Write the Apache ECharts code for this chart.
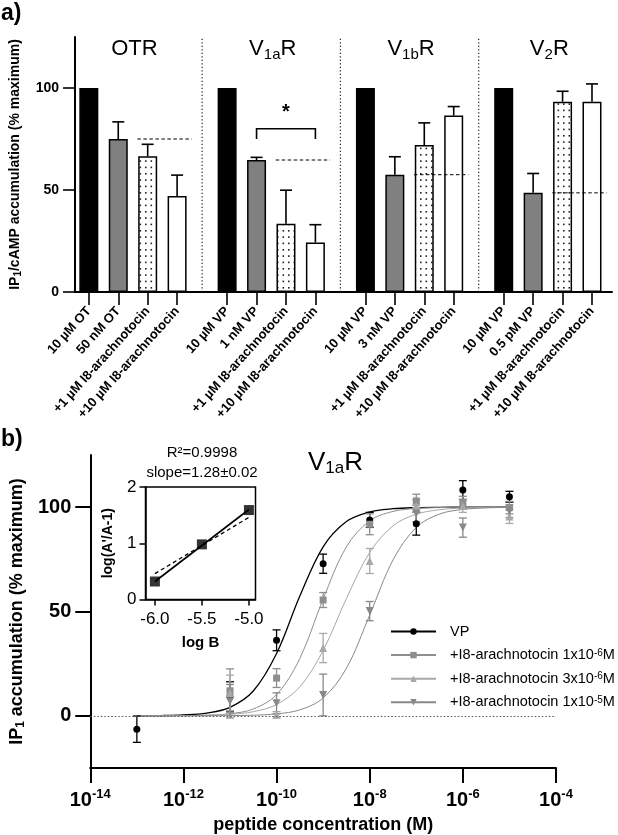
<!DOCTYPE html>
<html><head><meta charset="utf-8">
<script src="https://cdn.jsdelivr.net/npm/echarts@6/dist/echarts.min.js"></script>
<style>html,body{margin:0;padding:0;background:#fff}#c{width:618px;height:835px}</style>
</head><body><div id="c"></div>
<script>
// ================= DATA =================
// Panel a
const receptorTitles = ['OTR', 'V{sub|1a}R', 'V{sub|1b}R', 'V{sub|2}R'];
const barLabels = [
  ['10 µM OT', '50 nM OT', '+1 µM I8-arachnotocin', '+10 µM I8-arachnotocin'],
  ['10 µM VP', '1 nM VP', '+1 µM I8-arachnotocin', '+10 µM I8-arachnotocin'],
  ['10 µM VP', '3 nM VP', '+1 µM I8-arachnotocin', '+10 µM I8-arachnotocin'],
  ['10 µM VP', '0.5 pM VP', '+1 µM I8-arachnotocin', '+10 µM I8-arachnotocin']
];
const barValues = [
  [100, 75, 66.5, 47],
  [100, 64.7, 33.5, 24.3],
  [100, 57.5, 72, 86.5],
  [100, 48.6, 93.3, 93.3]
];
const barErrors = [
  [0, 8.4, 5.9, 10.3],
  [0, 1.3, 16.4, 8.7],
  [0, 8.8, 10.9, 4.4],
  [0, 9.5, 5.1, 8.7]
];
const yTicksA = [0, 50, 100];
const sigGroup = 1, sigFromBar = 1, sigToBar = 3, sigLevel = 80, sigDrop = 5, sigText = '*';

// Panel b (x values are log10 of molar concentration)
const seriesNames = ['VP', '+I8-arachnotocin 1x10-6M', '+I8-arachnotocin 3x10-6M', '+I8-arachnotocin 1x10-5M'];
const legendLabels = ['VP', '+I8-arachnotocin 1x10{s|-6}M', '+I8-arachnotocin 3x10{s|-6}M', '+I8-arachnotocin 1x10{s|-5}M'];
const vpLogC = [-13, -11, -10, -9, -8, -7, -6, -5];
const vpMean = [-6.4, 9.3, 36.2, 72.9, 93.9, 92.1, 108.2, 105];
const vpSem = [6.3, 7, 5, 4.6, 3.6, 5.5, 4.5, 2.6];
const antLogC = [-11, -10, -9, -8, -7, -6, -5];
const a1Mean = [12, 18.1, 55.5, 91.8, 103, 102.2, 99.8];
const a1Sem = [10.5, 4.5, 3.6, 5, 3.2, 3, 3];
const a3Mean = [11, 0.5, 32.5, 74.2, 100.6, 100.5, 95.5];
const a3Sem = [8.5, 1.5, 7, 6, 3, 3, 3.3];
const a10Mean = [7, 6, 10, 50.2, 97, 90.2, 98];
const a10Sem = [8, 5, 10, 4.6, 4, 4.6, 3];
// fitted curves read at half-decade steps
const curveLogC = [-13, -12.5, -12, -11.5, -11, -10.5, -10, -9.5, -9, -8.5, -8, -7.5, -7, -6.5, -6, -5.5, -5];
const vpCurve = [0.04, 0.13, 0.42, 1.33, 4.09, 11.9, 29.9, 57.4, 81.0, 93.1, 97.7, 99.26, 99.77, 99.93, 99.98, 99.99, 100];
const a1Curve = [0.01, 0.03, 0.09, 0.30, 1.00, 3.28, 10.19, 27.5, 56.0, 81.0, 93.46, 97.95, 99.38, 99.81, 99.94, 99.98, 99.99];
const a3Curve = [0.01, 0.03, 0.09, 0.26, 0.72, 1.99, 5.42, 13.9, 31.3, 56.2, 78.3, 91.06, 96.6, 98.78, 99.56, 99.84, 99.94];
const a10Curve = [0, 0, 0.01, 0.03, 0.09, 0.29, 0.92, 2.87, 8.53, 22.8, 48.3, 74.7, 90.3, 96.7, 98.9, 99.66, 99.89];
const xTicksB = [-14, -12, -10, -8, -6, -4];
const yTicksB = [0, 50, 100];

// Inset (Schild plot)
const schildLogB = [-6, -5.5, -5];
const schildY = [0.32, 0.98, 1.59];
const fitLogB = [-6, -5];
const fitY = [0.32, 1.60];
const unityY = [0.46, 1.46];
const insetXTicks = [-6, -5.5, -5];
const insetYTicks = [0, 1, 2];
const insetR2 = 'R²=0.9998';
const insetSlope = 'slope=1.28±0.02';

// ================= STYLE / LAYOUT =================
const FONT = "'Liberation Sans', Arial, Helvetica, sans-serif";
const GROUP_STEP = 4.7;
const pos = (g, i) => g * GROUP_STEP + i;
const barPositions = [];
const barPosLabels = [];
barValues.forEach((grp, g) => grp.forEach((v, i) => { barPositions.push(pos(g, i)); barPosLabels.push(barLabels[g][i]); }));
function labelFor(v) {
  let best = 0, d = 1e9;
  barPositions.forEach((p, k) => { if (Math.abs(p - v) < d) { d = Math.abs(p - v); best = k; } });
  return barPosLabels[best];
}

// dotted pattern
const pc = document.createElement('canvas');
pc.width = 11; pc.height = 19;
const pctx = pc.getContext('2d');
pctx.fillStyle = '#fff'; pctx.fillRect(0, 0, 11, 19);
pctx.fillStyle = '#222';
[[2, 2], [7.5, 2], [2, 8.3], [7.5, 8.3], [2, 14.6], [7.5, 14.6]].forEach(p => pctx.fillRect(p[0], p[1], 1.6, 1.6));

const barStyles = [
  { color: '#000', borderColor: '#000', borderWidth: 1.5 },
  { color: '#808080', borderColor: '#000', borderWidth: 1.5 },
  { color: { image: pc, repeat: 'repeat' }, borderColor: '#000', borderWidth: 1.5 },
  { color: '#fff', borderColor: '#000', borderWidth: 1.5 }
];

const barData = [];
const errDataA = [];
const refLineData = [];
barValues.forEach((grp, g) => {
  grp.forEach((v, i) => {
    barData.push({ value: [pos(g, i), v], itemStyle: barStyles[i] });
    if (barErrors[g][i] > 0) errDataA.push([pos(g, i), v, barErrors[g][i]]);
  });
  refLineData.push([pos(g, 1.65), pos(g, 3.5), grp[1]]);
});
const dividerData = [0, 1, 2].map(g => [pos(g, 3.85)]);
const titleData = receptorTitles.map((t, g) => [pos(g, 1.55), 119, t]);

const colorsB = ['#000000', '#8e8e8e', '#a8a8a8', '#888888'];
const symbolsB = ['circle', 'rect', 'triangle', 'path://M0,0 L10,0 L5,9 Z'];
const symSizeB = [7, 7, 8, 8];
const meansB = [vpMean, a1Mean, a3Mean, a10Mean];
const semsB = [vpSem, a1Sem, a3Sem, a10Sem];
const logCB = [vpLogC, antLogC, antLogC, antLogC];
const curvesB = [vpCurve, a1Curve, a3Curve, a10Curve];

const boldLbl = { color: '#000', fontFamily: FONT, fontWeight: 'bold' };

function errRender(color, lw, capHalf, upOnly) {
  return function (params, api) {
    const x = api.value(0), v = api.value(1), e = api.value(2);
    const pTop = api.coord([x, v + e]);
    const pBot = api.coord([x, upOnly ? v : v - e]);
    const st = { stroke: color, lineWidth: lw, fill: null };
    const ch = [
      { type: 'line', shape: { x1: pTop[0], y1: pTop[1], x2: pBot[0], y2: pBot[1] }, style: st },
      { type: 'line', shape: { x1: pTop[0] - capHalf, y1: pTop[1], x2: pTop[0] + capHalf, y2: pTop[1] }, style: st }
    ];
    if (!upOnly) ch.push({ type: 'line', shape: { x1: pBot[0] - capHalf, y1: pBot[1], x2: pBot[0] + capHalf, y2: pBot[1] }, style: st });
    return { type: 'group', children: ch };
  };
}

const series = [];
// ---------- panel a ----------
series.push({
  type: 'bar', xAxisIndex: 0, yAxisIndex: 0, barWidth: 19, data: barData, silent: true, z: 2
});
series.push({
  type: 'custom', xAxisIndex: 0, yAxisIndex: 0, data: errDataA, silent: true, z: 3,
  renderItem: errRender('#000', 1.6, 6, true)
});
series.push({
  type: 'custom', xAxisIndex: 0, yAxisIndex: 0, data: refLineData, silent: true, z: 4,
  renderItem: (params, api) => {
    const a = api.coord([api.value(0), api.value(2)]);
    const b = api.coord([api.value(1), api.value(2)]);
    return { type: 'line', shape: { x1: a[0], y1: a[1], x2: b[0], y2: b[1] }, style: { stroke: '#000', lineWidth: 1, lineDash: [3.5, 2.5] } };
  }
});
series.push({
  type: 'custom', xAxisIndex: 0, yAxisIndex: 0, data: dividerData, silent: true, z: 1,
  renderItem: (params, api) => {
    const a = api.coord([api.value(0), 0]);
    const b = api.coord([api.value(0), 125]);
    return { type: 'line', shape: { x1: a[0], y1: a[1], x2: b[0], y2: b[1] }, style: { stroke: '#222', lineWidth: 1.2, lineDash: [1.3, 2.2] } };
  }
});
series.push({
  type: 'custom', xAxisIndex: 0, yAxisIndex: 0, data: titleData, silent: true, z: 5,
  renderItem: (params, api) => {
    const p = api.coord([api.value(0), api.value(1)]);
    return {
      type: 'text', x: p[0], y: p[1],
      style: {
        text: titleData[params.dataIndex][2], align: 'center', verticalAlign: 'middle',
        fontFamily: FONT, fontSize: 22, fill: '#000',
        rich: { sub: { fontSize: 15, fontFamily: FONT, padding: [11, 0, 0, 0], verticalAlign: 'bottom' } }
      }
    };
  }
});
series.push({
  type: 'custom', xAxisIndex: 0, yAxisIndex: 0, data: [[pos(sigGroup, sigFromBar), pos(sigGroup, sigToBar), sigLevel, sigDrop]], silent: true, z: 5,
  renderItem: (params, api) => {
    const x1 = api.value(0), x2 = api.value(1), y = api.value(2), d = api.value(3);
    const a = api.coord([x1, y - d]), b = api.coord([x1, y]), c = api.coord([x2, y]), e = api.coord([x2, y - d]);
    const m = api.coord([(x1 + x2) / 2, y]);
    return {
      type: 'group', children: [
        { type: 'polyline', shape: { points: [a, b, c, e] }, style: { stroke: '#000', lineWidth: 1.6, fill: null } },
        { type: 'text', x: m[0], y: m[1] - 6, style: { text: sigText, align: 'center', verticalAlign: 'bottom', fontFamily: FONT, fontWeight: 'bold', fontSize: 20, fill: '#000' } }
      ]
    };
  }
});

// ---------- panel b ----------
for (let k = 0; k < 4; k++) {
  const curve = {
    name: seriesNames[k], type: 'line', xAxisIndex: 1, yAxisIndex: 1,
    data: curveLogC.map((x, i) => [x, curvesB[k][i]]),
    smooth: 0.35, showSymbol: false, symbol: symbolsB[k], symbolSize: symSizeB[k],
    lineStyle: { color: colorsB[k], width: k === 0 ? 1.3 : 1 },
    itemStyle: { color: colorsB[k] }, silent: true, z: 2
  };
  if (k === 0) {
    curve.markLine = {
      silent: true, symbol: 'none', label: { show: false },
      lineStyle: { type: [1.5, 2], color: '#555', width: 1 },
      data: [{ yAxis: 0 }]
    };
  }
  series.push(curve);
  series.push({
    type: 'custom', xAxisIndex: 1, yAxisIndex: 1, silent: true, z: 3,
    data: logCB[k].map((x, i) => [x, meansB[k][i], semsB[k][i]]),
    renderItem: errRender(colorsB[k], 1.3, 4, false)
  });
  series.push({
    type: 'scatter', xAxisIndex: 1, yAxisIndex: 1, silent: true, z: 4,
    symbol: symbolsB[k], symbolSize: symSizeB[k], itemStyle: { color: colorsB[k], opacity: 1 },
    data: logCB[k].map((x, i) => [x, meansB[k][i]])
  });
}

// ---------- inset ----------
series.push({
  type: 'line', xAxisIndex: 2, yAxisIndex: 2, silent: true, showSymbol: false, z: 2,
  data: fitLogB.map((x, i) => [x, unityY[i]]),
  lineStyle: { color: '#000', width: 1.3, type: [4, 3] }
});
series.push({
  type: 'line', xAxisIndex: 2, yAxisIndex: 2, silent: true, showSymbol: false, z: 3,
  data: fitLogB.map((x, i) => [x, fitY[i]]),
  lineStyle: { color: '#000', width: 1.6 }
});
series.push({
  type: 'scatter', xAxisIndex: 2, yAxisIndex: 2, silent: true, z: 4,
  symbol: 'rect', symbolSize: 10, itemStyle: { color: '#000' },
  data: schildLogB.map((x, i) => [x, schildY[i]])
});

const option = {
  animation: false,
  backgroundColor: '#fff',
  textStyle: { fontFamily: FONT },
  title: {
    text: 'V{sub|1a}R', left: 303, top: 443,
    textStyle: { fontFamily: FONT, fontSize: 26, fontWeight: 'normal', color: '#000',
      rich: { sub: { fontSize: 17, fontFamily: FONT, padding: [12, 0, 0, 0], verticalAlign: 'bottom' } } }
  },
  legend: {
    data: seriesNames, orient: 'vertical', left: 385, top: 619,
    itemWidth: 45, itemHeight: 8, itemGap: 8.6,
    formatter: name => legendLabels[seriesNames.indexOf(name)],
    textStyle: { fontFamily: FONT, fontSize: 14.5, color: '#000', padding: [0, 0, 0, 9], lineHeight: 14,
      rich: { s: { fontSize: 10, fontFamily: FONT, verticalAlign: 'top', lineHeight: 9 } } },
    selectedMode: false
  },
  graphic: [
    { type: 'text', left: 1, top: 2, style: { text: 'a)', fontFamily: FONT, fontWeight: 'bold', fontSize: 23, fill: '#000' } },
    { type: 'text', left: 1, top: 428, style: { text: 'b)', fontFamily: FONT, fontWeight: 'bold', fontSize: 23, fill: '#000' } },
    { type: 'text', x: 202, y: 453, style: { text: insetR2, align: 'center', verticalAlign: 'middle', fontFamily: FONT, fontSize: 15, fill: '#000' } },
    { type: 'text', x: 202, y: 473, style: { text: insetSlope, align: 'center', verticalAlign: 'middle', fontFamily: FONT, fontSize: 15, fill: '#000' } }
  ],
  grid: [
    { left: 70, top: 37, right: 6, height: 255 },
    { left: 87, top: 455, width: 469, height: 313 },
    { left: 145.5, top: 487, width: 110, height: 112.5, show: true, borderColor: '#000', borderWidth: 1.5, backgroundColor: 'transparent' }
  ],
  xAxis: [
    {
      type: 'value', gridIndex: 0, min: -0.47, max: 17.78,
      axisLine: { onZero: false, lineStyle: { color: '#000', width: 2 } },
      axisTick: { show: true, customValues: barPositions, length: 13, lineStyle: { color: '#000', width: 1.6 } },
      axisLabel: { customValues: barPositions, rotate: 48, margin: 17, formatter: v => labelFor(v), fontSize: 13, ...boldLbl },
      splitLine: { show: false }
    },
    {
      type: 'value', gridIndex: 1, min: -14, max: -4, interval: 2,
      axisLine: { onZero: false, lineStyle: { color: '#000', width: 2 } },
      axisTick: { show: true, customValues: xTicksB, length: 15, lineStyle: { color: '#000', width: 2 } },
      axisLabel: { customValues: xTicksB, margin: 20, formatter: v => '{b|10}{s|' + v + '}',
        rich: { b: { fontSize: 20, fontWeight: 'bold', fontFamily: FONT, color: '#000', verticalAlign: 'bottom', lineHeight: 22 },
                s: { fontSize: 13, fontWeight: 'bold', fontFamily: FONT, color: '#000', verticalAlign: 'top', lineHeight: 13 } } },
      splitLine: { show: false },
      name: 'peptide concentration (M)', nameLocation: 'middle', nameGap: 48,
      nameTextStyle: { fontSize: 18, ...boldLbl }
    },
    {
      type: 'value', gridIndex: 2, min: -6.1, max: -4.93,
      axisLine: { onZero: false, lineStyle: { color: '#000', width: 1.5 } },
      axisTick: { show: true, customValues: insetXTicks, length: 6, lineStyle: { color: '#000', width: 1.5 } },
      axisLabel: { customValues: insetXTicks, margin: 11, formatter: v => v.toFixed(1), fontSize: 17, color: '#000', fontFamily: FONT },
      splitLine: { show: false },
      name: 'log B', nameLocation: 'middle', nameGap: 36,
      nameTextStyle: { fontSize: 15, ...boldLbl }
    }
  ],
  yAxis: [
    {
      type: 'value', gridIndex: 0, min: 0, max: 125,
      axisLine: { show: true, onZero: false, lineStyle: { color: '#000', width: 2 } },
      axisTick: { show: true, customValues: yTicksA, length: 12, lineStyle: { color: '#000', width: 1.6 } },
      axisLabel: { customValues: yTicksA, margin: 16, fontSize: 14, ...boldLbl },
      splitLine: { show: false },
      name: 'IP{sub|1}/cAMP accumulation (% maximum)', nameLocation: 'middle', nameGap: 52,
      nameTextStyle: { fontSize: 14, ...boldLbl, rich: { sub: { fontSize: 10, fontWeight: 'bold', fontFamily: FONT, color: '#000', verticalAlign: 'bottom', padding: [6, 0, 0, 0] } } }
    },
    {
      type: 'value', gridIndex: 1, min: -25, max: 125,
      axisLine: { show: true, onZero: false, lineStyle: { color: '#000', width: 2 } },
      axisTick: { show: true, customValues: yTicksB, length: 15, lineStyle: { color: '#000', width: 2 } },
      axisLabel: { customValues: yTicksB, margin: 19, fontSize: 20, ...boldLbl },
      splitLine: { show: false },
      name: 'IP{sub|1} accumulation (% maximum)', nameLocation: 'middle', nameGap: 54,
      nameTextStyle: { fontSize: 18, ...boldLbl, rich: { sub: { fontSize: 12, fontWeight: 'bold', fontFamily: FONT, color: '#000', verticalAlign: 'bottom', padding: [8, 0, 0, 0] } } }
    },
    {
      type: 'value', gridIndex: 2, min: 0, max: 2, interval: 1,
      axisLine: { show: true, onZero: false, lineStyle: { color: '#000', width: 1.5 } },
      axisTick: { show: true, length: 6, lineStyle: { color: '#000', width: 1.5 } },
      axisLabel: { margin: 9, fontSize: 17, color: '#000', fontFamily: FONT },
      splitLine: { show: false },
      name: "log(A'/A-1)", nameLocation: 'middle', nameGap: 30,
      nameTextStyle: { fontSize: 14, ...boldLbl }
    }
  ],
  series: series
};

const chart = echarts.init(document.getElementById('c'), null, { renderer: 'canvas' });
chart.setOption(option);
</script>
</body></html>
